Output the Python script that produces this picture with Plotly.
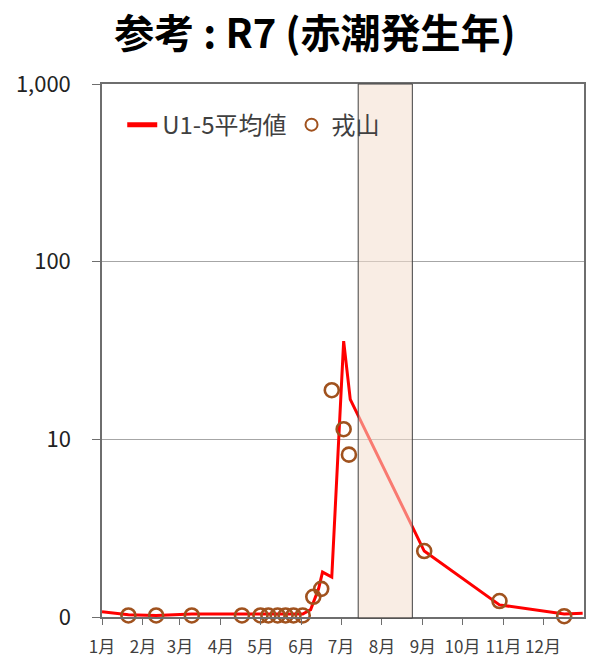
import plotly.graph_objects as go

# ---- data ----
avg_dates = ["2025-01-01", "2025-01-21", "2025-02-11", "2025-03-10", "2025-04-17",
             "2025-05-01", "2025-06-02", "2025-06-08", "2025-06-14", "2025-06-17",
             "2025-06-24", "2025-07-03", "2025-07-08", "2025-09-02", "2025-10-29",
             "2025-12-17", "2025-12-31"]
avg_values = [1.07, 1.03, 1.02, 1.04, 1.04,
              1.04, 1.04, 1.10, 1.44, 1.79,
              1.68, 35.7, 16.8, 2.35, 1.17,
              1.04, 1.05]

obs_dates = ["2025-01-21", "2025-02-11", "2025-03-10", "2025-04-17", "2025-05-01",
             "2025-05-07", "2025-05-14", "2025-05-20", "2025-05-26", "2025-06-02",
             "2025-06-10", "2025-06-16", "2025-06-24", "2025-07-03", "2025-07-07",
             "2025-09-02", "2025-10-29", "2025-12-17"]
obs_values = [1.02, 1.02, 1.02, 1.02, 1.02,
              1.02, 1.02, 1.02, 1.02, 1.02,
              1.30, 1.44, 18.9, 11.4, 8.2,
              2.35, 1.23, 1.01]

bloom_period = ["2025-07-14", "2025-08-24"]

month_ticks = ["2025-%02d-01" % m for m in range(1, 13)]
month_labels = ["%d月" % m for m in range(1, 13)]

y_tickvals = [1, 10, 100, 1000]
y_ticktext = ["0", "10", "100", "1,000"]

series_names = ["U1-5平均値", "戎山"]

JP = "Noto Sans CJK JP"
AX = "#6e6e6e"

fig = go.Figure()
fig.add_trace(go.Scatter(
    x=avg_dates, y=avg_values, mode="lines", name=series_names[0],
    line=dict(color="#ff0000", width=3), cliponaxis=False))
fig.add_trace(go.Scatter(
    x=obs_dates, y=obs_values, mode="markers", name=series_names[1],
    marker=dict(symbol="circle-open", size=14, color="#a0521e",
                line=dict(width=2.6, color="#a0521e")),
    cliponaxis=False))

fig.add_shape(type="rect", xref="x", yref="paper",
              x0=bloom_period[0], x1=bloom_period[1], y0=-0.002, y1=1,
              fillcolor="rgba(244,222,205,0.55)",
              line=dict(color="#404040", width=1), layer="above")

fig.update_layout(
    width=592, height=657,
    margin=dict(l=102, r=8, t=84, b=40),
    paper_bgcolor="white", plot_bgcolor="white",
    font=dict(family=JP, color="#404040"),
    title=dict(text="<b>参考 : R7 (赤潮発生年)</b>", x=0.532, xanchor="center",
               xref="container", yref="container", y=0.949, yanchor="middle",
               font=dict(family=JP, size=40, color="#000000")),
    showlegend=True,
    legend=dict(orientation="h", x=0.042, xanchor="left", y=0.923, yanchor="middle",
                font=dict(family=JP, size=24, color="#404040"),
                bgcolor="rgba(0,0,0,0)", itemwidth=30, itemsizing="constant",
                tracegroupgap=0),
    xaxis=dict(type="date", range=["2025-01-01", "2026-01-01"],
               tickvals=month_ticks, ticktext=month_labels,
               ticks="outside", ticklen=6, tickcolor=AX, tickwidth=1,
               ticklabelstandoff=8,
               showline=True, linecolor=AX, linewidth=1.5, mirror=True,
               showgrid=False, zeroline=False, automargin=False,
               tickfont=dict(family=JP, size=17, color="#404040")),
    yaxis=dict(type="log", range=[0, 3],
               tickvals=y_tickvals, ticktext=y_ticktext,
               ticks="outside", ticklen=8, tickcolor=AX, tickwidth=1,
               ticklabelstandoff=17,
               showline=True, linecolor=AX, linewidth=1.5, mirror=True,
               showgrid=True, gridcolor="#a6a6a6", gridwidth=1, zeroline=False,
               automargin=False,
               tickfont=dict(family=JP, size=22, color="#222222")),
)

fig.write_html("out.html",
               config={"displayModeBar": False},
               post_script="document.body.style.margin='0px';document.body.style.padding='0px';")
